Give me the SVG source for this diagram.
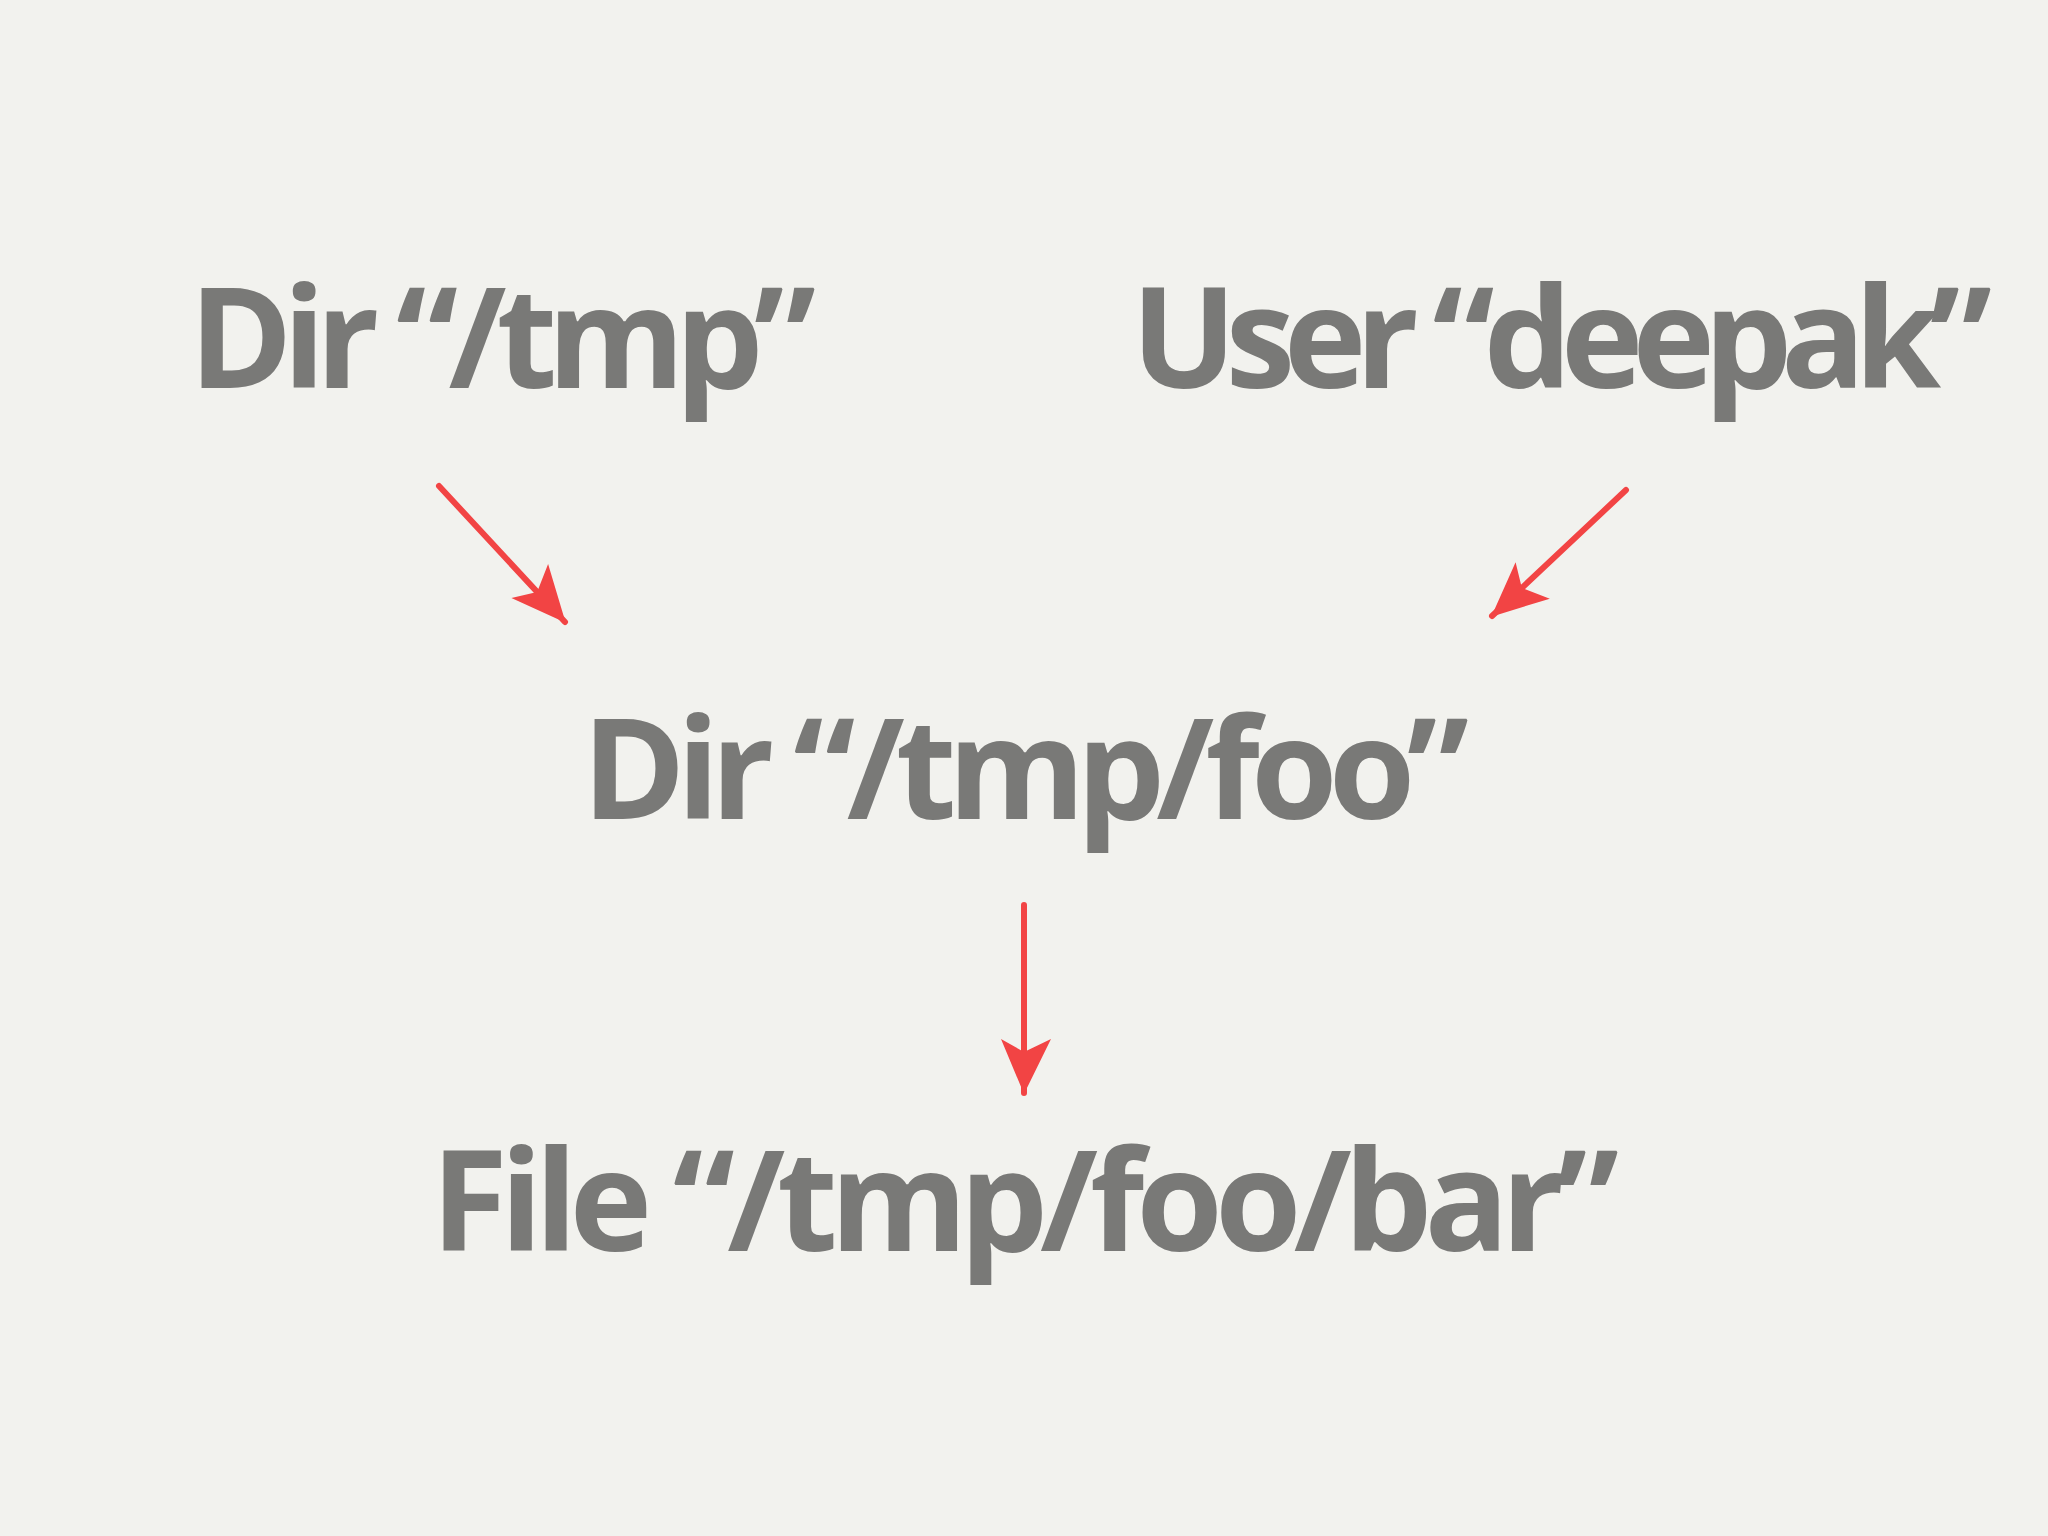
<svg xmlns="http://www.w3.org/2000/svg" width="2048" height="1536" viewBox="0 0 2048 1536">
<style>
.t{font-family:"Open Sans","DejaVu Sans",sans-serif;font-weight:bold;font-size:140px;fill:#797977}
.c{stroke:#f24444;stroke-width:6;fill:none;stroke-linecap:round}
</style>
<defs>
<marker id="ah" viewBox="0 0 10 10" refX="9" refY="5" markerWidth="10" markerHeight="10" markerUnits="userSpaceOnUse" orient="auto" style="overflow:visible">
<path d="M-45,-22 L10,5 L-45,28 L-32,5 Z" fill="#f24444"/>
</marker>
</defs>
<rect width="2048" height="1536" fill="#f2f2ee"/>
<g id="n1"><text class="t" x="189" y="388" textLength="627" lengthAdjust="spacing">Dir “/tmp”</text></g>
<g id="n2"><text class="t" x="1131" y="388" textLength="861" lengthAdjust="spacing">User “deepak”</text></g>
<g id="n3"><text class="t" x="582" y="819" textLength="887" lengthAdjust="spacing">Dir “/tmp/foo”</text></g>
<g id="n4"><text class="t" x="431" y="1251" textLength="1188" lengthAdjust="spacing">File “/tmp/foo/bar”</text></g>
<g id="connectors">
<line class="c" x1="439" y1="486" x2="565" y2="622" marker-end="url(#ah)"/>
<line class="c" x1="1626" y1="490" x2="1492" y2="616" marker-end="url(#ah)"/>
<line class="c" x1="1024" y1="905" x2="1024" y2="1093" marker-end="url(#ah)"/>
</g>
</svg>
